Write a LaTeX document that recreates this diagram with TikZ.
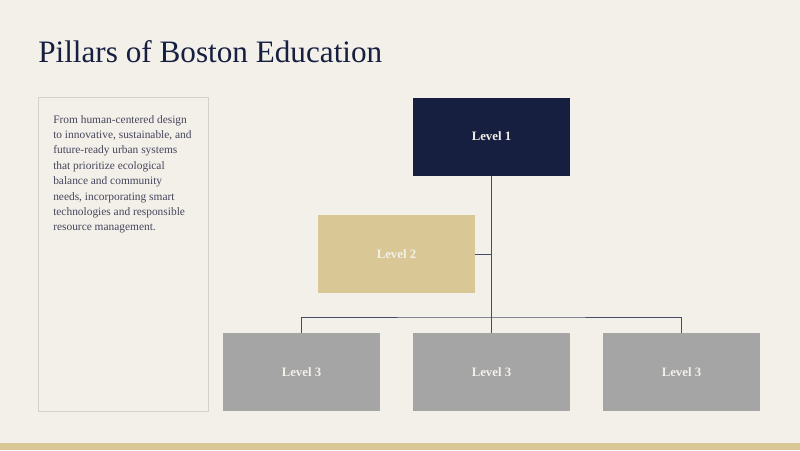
\documentclass[tikz,border=0pt]{standalone}
\usepackage{fontspec}
\setmainfont{Liberation Serif}
\usetikzlibrary{positioning}
\definecolor{bgcream}{HTML}{F3F0EA}
\definecolor{navy}{HTML}{171F40}
\definecolor{gold}{HTML}{D9C796}
\definecolor{boxgray}{HTML}{A5A5A5}
\definecolor{edgegray}{HTML}{D4D1CB}
\definecolor{bodytext}{HTML}{45455A}
\definecolor{labeltext}{HTML}{F3F0EA}
\tikzset{
  levelbox/.style={minimum width=117.75pt, minimum height=58.5pt, inner sep=0pt,
    font=\fontsize{9.6}{11}\selectfont\bfseries, text=labeltext},
  link/.style={draw=navy!80, line width=0.7pt}
}

\begin{document}
\begin{tikzpicture}[x=0.75pt,y=-0.75pt]
%\clip(0,0) rectangle (800,450);
	\fill[bgcream] (0,0) rectangle (800,450);
	\fill[gold] (0,443) rectangle (800,450);
	\useasboundingbox (0,0) rectangle (800,450);
	\node[anchor=base west, inner sep=0pt, text=navy, font=\fontsize{23.4}{28}\selectfont] (title) at (38,62) {Pillars of Boston Education};
	\node[draw=edgegray, line width=0.6pt, minimum width=127.5pt, minimum height=235.5pt, inner sep=0pt] (info) at (123,254) {};
	\node[anchor=north west, inner sep=0pt, align=left, text=bodytext, font=\fontsize{8.55}{11.55}\selectfont] (infotext) at (53,115) {From human-centered design\\to innovative, sustainable, and\\future-ready urban systems\\that prioritize ecological\\balance and community\\needs, incorporating smart\\technologies and responsible\\resource management.};
%\begin{scriptsize}
	\node[levelbox, fill=navy] (lvla) at (491.5,136.5) {Level 1};
	\node[levelbox, fill=gold] (lvlb) at (396.5,254) {Level 2};
	\node[levelbox, fill=boxgray] (lvlc) at (301.5,372) {Level 3};
	\node[levelbox, fill=boxgray] (lvld) at (491.5,372) {Level 3};
	\node[levelbox, fill=boxgray] (lvle) at (681.5,372) {Level 3};
	\coordinate (bus) at (491.5,317);
	\coordinate (tee) at (491.5,254);
	\draw[link] (lvla.south) -- (lvld.north);
	\draw[link] (lvlb.east) -- (tee);
	\draw[link] (lvlc.north) |- (bus) -| (lvle.north);
%\end{scriptsize}
\end{tikzpicture}
\end{document}
